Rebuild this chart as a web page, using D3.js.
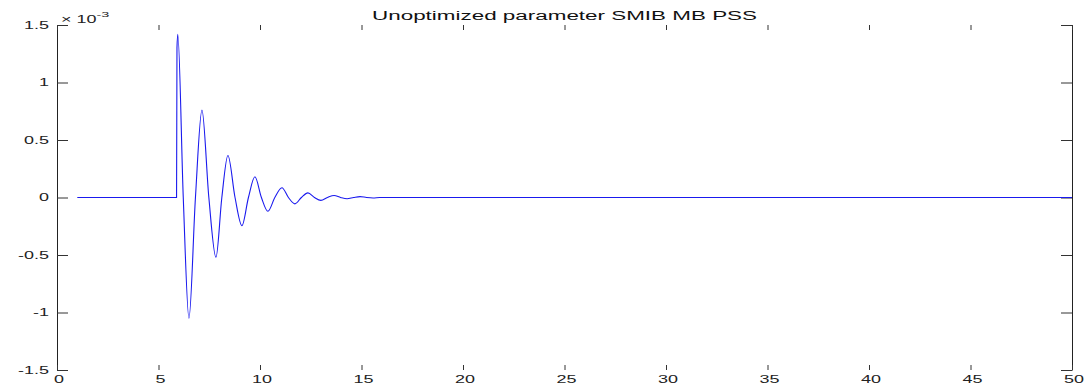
<!DOCTYPE html>
<html>
<head>
<meta charset="utf-8">
<script src="https://cdn.jsdelivr.net/npm/d3@7/dist/d3.min.js"></script>
<style>
  body { margin: 0; background: #fff; }
  svg { display: block; }
  text { font-family: "Liberation Sans", Arial, sans-serif; }
</style>
</head>
<body>
<svg id="chart"></svg>
<script>
// data (time in s, value in units of 1e-3)
var time   = [1, 5.89, 5.91, 5.95, 6.22, 6.5, 6.82, 7.14, 7.48, 7.83, 8.12, 8.42, 8.77, 9.11, 9.43, 9.75,
              10.07, 10.39, 10.73, 11.08, 11.4, 11.72, 12.04, 12.36, 12.68, 13.0, 13.32, 13.65, 13.97,
              14.29, 14.61, 14.93, 15.25, 15.57, 15.9, 16.3, 50];
var values = [0, 0, 1.3, 1.42, 0, -1.05, 0, 0.76, 0, -0.52, 0, 0.365, 0, -0.245, 0, 0.18,
              0, -0.12, 0, 0.085, 0, -0.055, 0, 0.04, 0, -0.025, 0, 0.018, 0,
              -0.011, 0, 0.008, 0, -0.004, 0, 0, 0];
var xTicks = [0, 5, 10, 15, 20, 25, 30, 35, 40, 45, 50];
var yTicks = [-1.5, -1, -0.5, 0, 0.5, 1, 1.5];
var yTickLabels = ["-1.5", "-1", "-0.5", "0", "0.5", "1", "1.5"];
var title = "Unoptimized parameter SMIB MB PSS";

var width = 1091, height = 385;
var mLeft = 57, mRight = 1072, mTop = 25, mBottom = 370;
var stretch = 1.8; // text in the picture is wide

var svg = d3.select("#chart").attr("width", width).attr("height", height);

var x = d3.scaleLinear().domain([0, 50]).range([mLeft, mRight]);
var y = d3.scaleLinear().domain([-1.5, 1.5]).range([mBottom, mTop]);

// left axis with labels
var gl = svg.append("g")
    .attr("transform", "translate(" + mLeft + ",0)")
    .call(d3.axisLeft(y).tickValues(yTicks).tickSizeInner(-11).tickSizeOuter(0)
          .tickFormat(function(d, i){ return yTickLabels[i]; }));
gl.selectAll("text")
    .attr("x", -8 / stretch)
    .attr("transform", "scale(" + stretch + ",1)")
    .style("font-size", "10px")
    .attr("fill", "#222");

// right axis, ticks only
svg.append("g")
    .attr("transform", "translate(" + mRight + ",0)")
    .call(d3.axisRight(y).tickValues(yTicks).tickSizeInner(-11).tickSizeOuter(0).tickFormat(""));

// bottom axis, ticks + labels, no domain line
var gb = svg.append("g")
    .attr("transform", "translate(0," + mBottom + ")")
    .call(d3.axisBottom(x).tickValues(xTicks).tickSizeInner(-5).tickSizeOuter(0));
gb.select(".domain").remove();
gb.selectAll("text")
    .attr("y", 13).attr("dy", 0)
    .attr("x", 1.5 / stretch)
    .attr("transform", "scale(" + stretch + ",1)")
    .style("font-size", "10px")
    .attr("fill", "#222");

// top axis, ticks only
var gt = svg.append("g")
    .attr("transform", "translate(0," + mTop + ")")
    .call(d3.axisTop(x).tickValues(xTicks).tickSizeInner(-5).tickSizeOuter(0).tickFormat(""));
gt.select(".domain").remove();

svg.selectAll(".tick line").attr("stroke", "#333");
svg.selectAll(".domain").attr("stroke", "#222");

// signal
var line = d3.line()
    .x(function(d){ return x(d[0]); })
    .y(function(d){ return y(d[1]); })
    .curve(d3.curveMonotoneX);

svg.append("path")
    .datum(d3.zip(time, values))
    .attr("d", line)
    .attr("fill", "none")
    .attr("stroke", "#1a1aee")
    .attr("stroke-width", 1.1);

// exponent label
var ex = svg.append("text")
    .attr("transform", "translate(61,23) scale(" + stretch + ",1)")
    .style("font-size", "10px")
    .attr("fill", "#222");
ex.append("tspan").text("\u00d7 10");
ex.append("tspan").attr("dy", -6).style("font-size", "8px").text("-3");

// title
svg.append("text")
    .attr("x", 372).attr("y", 20)
    .attr("textLength", 385)
    .attr("lengthAdjust", "spacingAndGlyphs")
    .style("font-size", "12px")
    .attr("fill", "#111")
    .text(title);
</script>
</body>
</html>
